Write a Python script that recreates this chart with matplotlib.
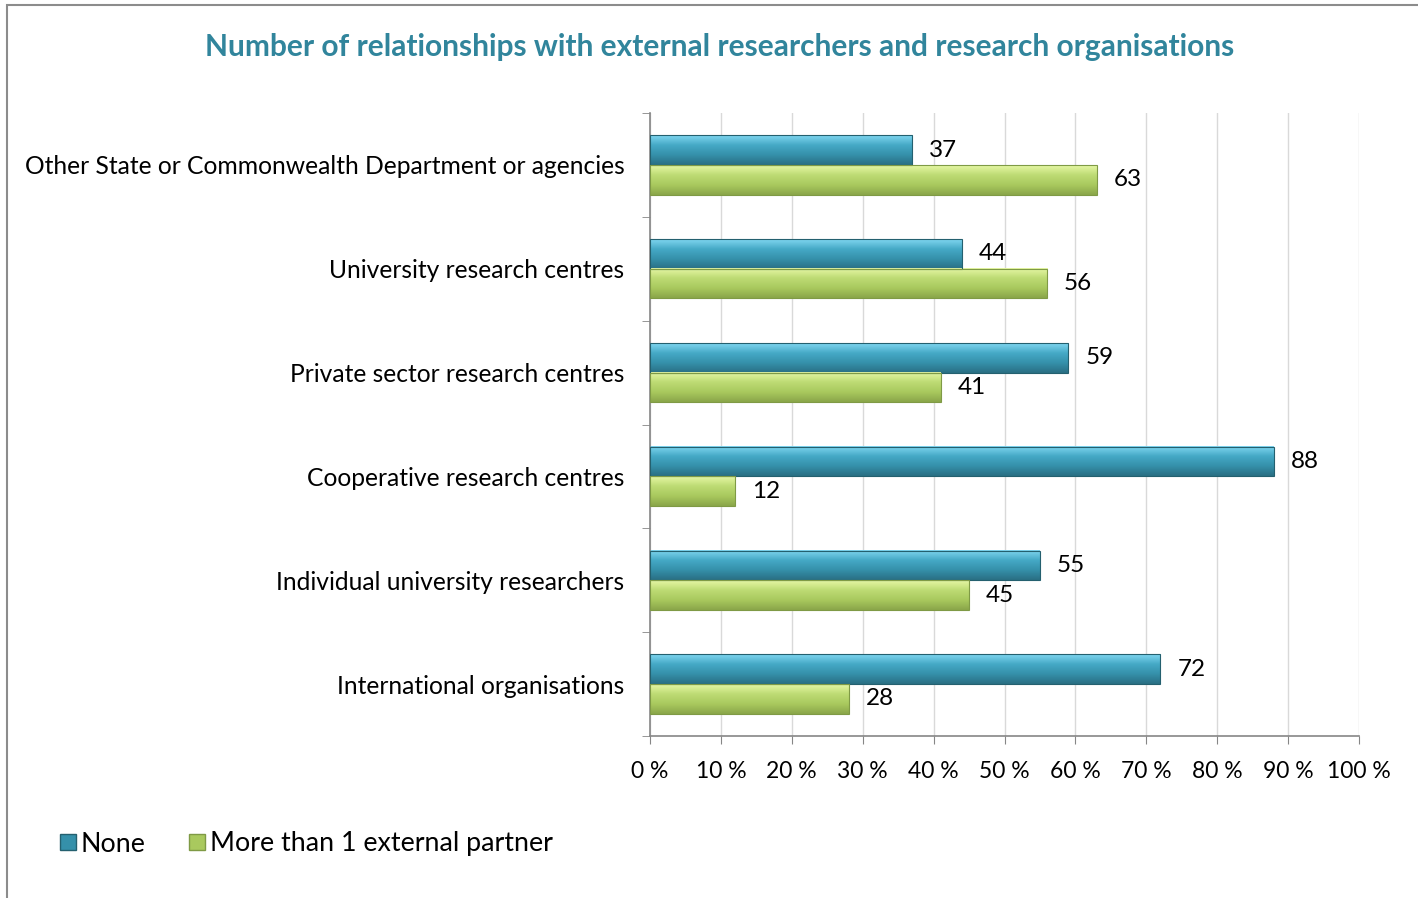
import numpy as np
import matplotlib
matplotlib.use("Agg")
import matplotlib.pyplot as plt
from matplotlib.lines import Line2D
from matplotlib.colors import LinearSegmentedColormap

plt.rcParams['font.family'] = ['Lato', 'DejaVu Sans']

# data (top to bottom as in the chart)
categories = ["Other State or Commonwealth Department or agencies",
              "University research centres",
              "Private sector research centres",
              "Cooperative research centres",
              "Individual university researchers",
              "International organisations"]
none_vals = [37, 44, 59, 88, 55, 72]
more_vals = [63, 56, 41, 12, 45, 28]
xticks = [0, 10, 20, 30, 40, 50, 60, 70, 80, 90, 100]
xtick_labels = ["%d %%" % t for t in xticks]

title_col = "#31859C"
blue_cmap = LinearSegmentedColormap.from_list("b", ["#2a6f84", "#3590aa", "#45a9c6", "#7fd6f0"])
green_cmap = LinearSegmentedColormap.from_list("g", ["#8aa64a", "#a9c95e", "#bddb74", "#e6f7a4"])

fig = plt.figure(figsize=(14.18, 8.98), dpi=100)
ax = fig.add_axes([650/1418, 1-736/898, 709/1418, 623/898])

n = len(categories)
ypos = np.arange(n)[::-1]  # top category at highest y
h = 0.285

b1 = ax.barh(ypos + h/2, none_vals, height=h, color="#3590aa", edgecolor="#24606f", linewidth=0.8, zorder=2)
b2 = ax.barh(ypos - h/2, more_vals, height=h, color="#a9c95e", edgecolor="#7f9a45", linewidth=0.8, zorder=2)

# gradient fill on each bar
grad = np.linspace(0, 1, 64).reshape(-1, 1)
for bars, cmap in ((b1, blue_cmap), (b2, green_cmap)):
    for p in bars:
        x, y = p.get_x(), p.get_y()
        w, hh = p.get_width(), p.get_height()
        ax.imshow(grad, cmap=cmap, aspect="auto", origin="lower",
                  extent=(x, x + w, y, y + hh), zorder=2.5, interpolation="bilinear")
        p.set_facecolor("none")
        p.set_zorder(3)

for bars, vals in ((b1, none_vals), (b2, more_vals)):
    for p, v in zip(bars, vals):
        ax.text(p.get_width() + 2.4, p.get_y() + p.get_height()/2, str(v),
                va="center", ha="left", fontsize=17.5, color="black", zorder=4)

ax.set_xlim(0, 100)
ax.set_ylim(-0.5, n - 0.5)
ax.set_xticks(xticks)
ax.set_xticklabels(xtick_labels, fontsize=16.5)
ax.set_yticks(ypos)
ax.set_yticklabels(categories, fontsize=17.7)
ax.set_yticks(np.arange(n + 1) - 0.5, minor=True)
ax.tick_params(axis="y", which="major", length=0, pad=18.5)
ax.tick_params(axis="y", which="minor", length=6, color="#868686", direction="out")
ax.tick_params(axis="x", length=6, color="#868686", pad=12)
ax.grid(axis="x", color="#d9d9d9", linewidth=1, zorder=0)
ax.set_axisbelow(True)
for s in ("top", "right"):
    ax.spines[s].set_visible(False)
for s in ("left", "bottom"):
    ax.spines[s].set_color("#868686")
    ax.spines[s].set_linewidth(1.2)

fig.text(720/1418, 1-47/898, "Number of relationships with external researchers and research organisations",
         ha="center", va="center", fontsize=21.5, fontweight="bold", color=title_col)

handles = [Line2D([], [], marker="s", linestyle="none", markersize=12, markerfacecolor="#3590aa", markeredgecolor="#24606f"),
           Line2D([], [], marker="s", linestyle="none", markersize=12, markerfacecolor="#a9c95e", markeredgecolor="#7f9a45")]
fig.legend(handles, ["None", "More than 1 external partner"], loc="center left",
           bbox_to_anchor=(30/1418, 1-844/898), ncol=2, frameon=False, fontsize=19.3,
           handletextpad=0.0, columnspacing=1.4, handlelength=1.0)

# outer frame
fig.add_artist(plt.Rectangle((7/1418, -0.01), 1.1, 1 - 5/898 + 0.01, transform=fig.transFigure,
                             fill=False, edgecolor="#8c8c8c", linewidth=1.5))

fig.savefig("out.png", dpi=100)
